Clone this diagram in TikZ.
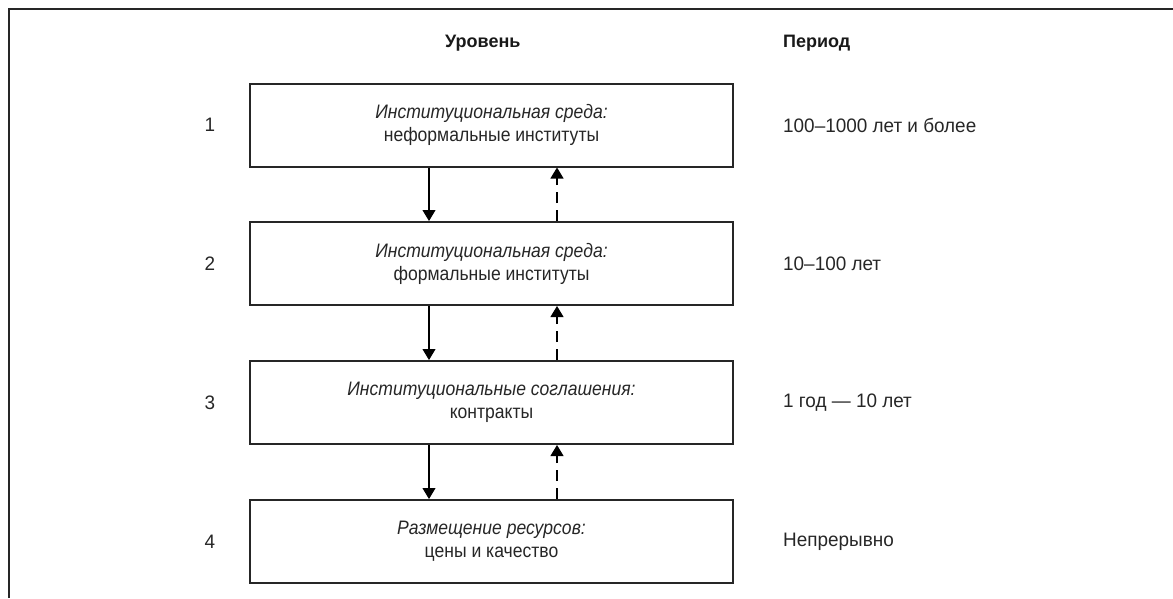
\documentclass[tikz,border=0pt]{standalone}
\usepackage{fontspec}
\setmainfont{Liberation Sans}
\newfontfamily\condfont{Liberation Sans}[FakeStretch=0.9]
\newfontfamily\perfont{Liberation Sans}[FakeStretch=0.97]
\usetikzlibrary{arrows.meta}
\begin{document}
\begin{tikzpicture}[x=1pt,y=-1pt,
  lvl/.style={draw=black!85,line width=2pt,minimum width=483pt,minimum height=83pt,align=center,inner sep=0pt,font=\condfont\fontsize{19.5}{23}\selectfont,text=black!85},
  num/.style={font=\perfont\fontsize{19.5}{23}\selectfont,text=black!85},
  per/.style={anchor=west,font=\perfont\fontsize{19.5}{23}\selectfont,text=black!85,inner sep=0pt},
  hdr/.style={font=\bfseries\fontsize{18}{20}\selectfont,text=black!90,inner sep=0pt},
  down/.style={line width=1.1pt,-{Triangle[width=13pt,length=11pt]}},
  up/.style={line width=1.1pt,dash pattern=on 11pt off 7pt,-{Triangle[width=13pt,length=11pt]}}]
\useasboundingbox (0,0) rectangle (1173,598);
\draw[line width=2.2pt,black!85] (9,598) -- (9,9) -- (1173,9);
\node[hdr,anchor=west] (h1) at (445,43) {Уровень};
\node[hdr,anchor=west] (h2) at (783,43) {Период};
\node[lvl] (b1) at (491.5,125) {\itshape Институциональная среда:\\неформальные институты};
\node[lvl] (b2) at (491.5,263.5) {\itshape Институциональная среда:\\формальные институты};
\node[lvl] (b3) at (491.5,402.5) {\itshape Институциональные соглашения:\\контракты};
\node[lvl] (b4) at (491.5,541.5) {\itshape Размещение ресурсов:\\цены и качество};
\node[num] (n1) at (210,125) {1};
\node[num] (n2) at (210,263.5) {2};
\node[num] (n3) at (210,402.5) {3};
\node[num] (n4) at (210,541.5) {4};
\node[per] (p1) at (783,125) {100–1000 лет и более};
\node[per] (p2) at (783,263.5) {10–100 лет};
\node[per] (p3) at (783,402.5) {1 год — 10 лет};
\node[per] (p4) at (783,541.5) {Непрерывно};
\foreach \a/\b in {b1/b2,b2/b3,b3/b4}{
  \draw[down] ([xshift=-62.5pt]\a.south) -- ([xshift=-62.5pt]\b.north);
  \draw[up] ([xshift=65.5pt]\b.north) -- ([xshift=65.5pt]\a.south);
}
\end{tikzpicture}
\end{document}
